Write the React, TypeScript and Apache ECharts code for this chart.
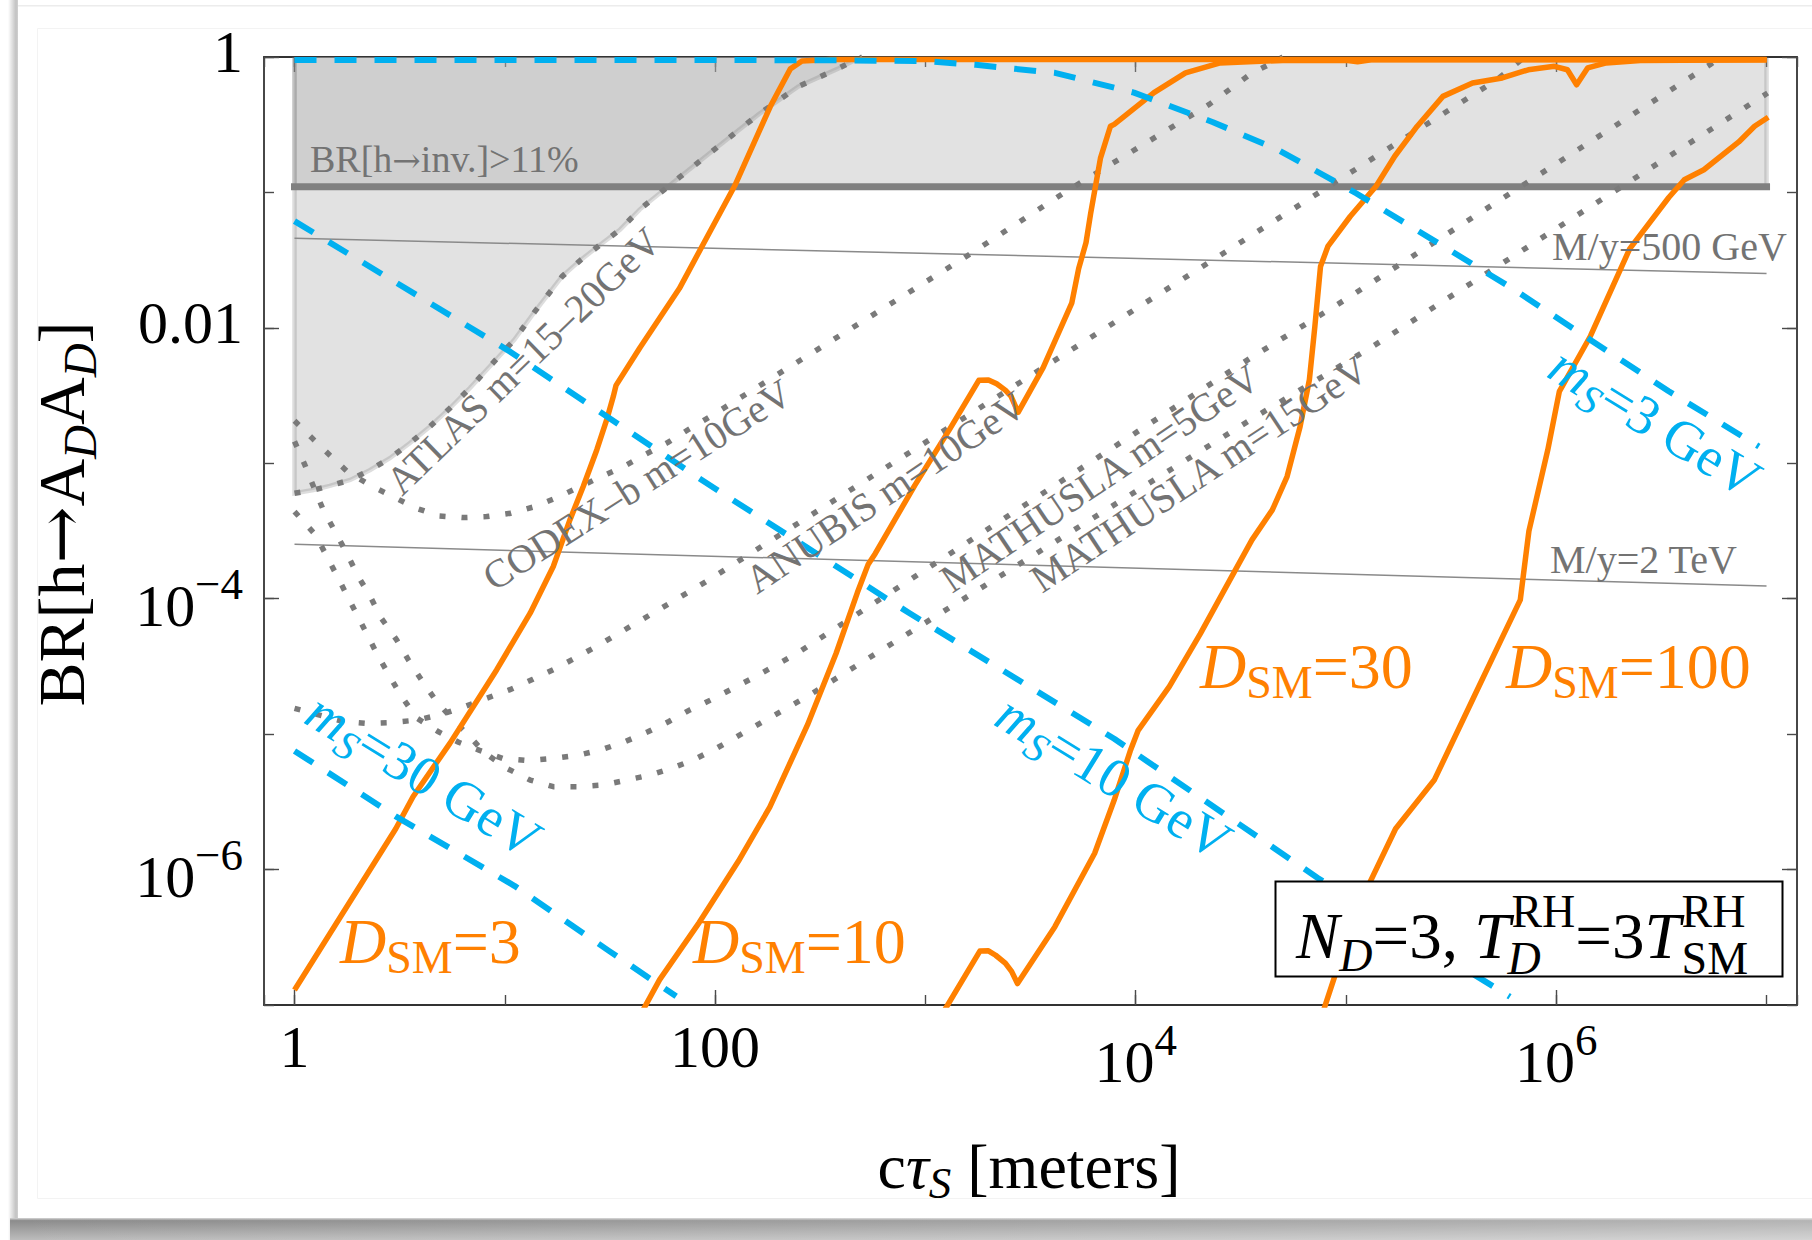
import React, { useEffect, useRef } from 'react';
import * as echarts from 'echarts';

type Pt = [number, number];

const WIDTH = 1812;
const HEIGHT = 1240;
const SERIF = '"Liberation Serif", "Times New Roman", Times, serif';
const ARROW_FONT = '"DejaVu Serif", "Liberation Serif", serif';

const ORANGE = '#ff8000';
const BLUE = '#00b0f0';
const GRAY = '#808080';
const DOT_GRAY = '#7a7a7a';
const LABEL_GRAY = '#737373';
const REGION_FILL = 'rgba(171,171,171,0.345)';
const REGION_EDGE = 'rgba(120,120,120,0.25)';

// Axis ranges: c*tau_S in meters, branching ratio
const X_MIN = 0.716;
const X_MAX = 1.396e7;
const Y_MIN = 1e-7;
const Y_MAX = 1;

// Tick labels
const xLabelExponents = [0, 2, 4, 6];
const yLabelExponents = [0, -2, -4, -6];
const plainTickText: Record<string, string> = { '0': '1', '2': '100', '-2': '0.01' };
const xLongTicks = [1, 100, 1e4, 1e6];
const yLongTicks = [1, 1e-2, 1e-4, 1e-6];

// Invisible-decay bound BR[h -> inv.] > 11%
const brInvBound = 0.11;
const brInvBand: Pt[] = [[1, brInvBound], [1, 1], [1e7, 1], [1e7, brInvBound]];

// ATLAS m = 15-20 GeV excluded region edge
const atlasEdge: Pt[] = [
  [1, 6.01e-4], [1.23, 6.35e-4], [1.47, 6.81e-4], [1.84, 7.53e-4], [2.29, 8.93e-4],
  [2.84, 1.09e-3], [3.54, 1.41e-3], [4.41, 1.87e-3], [5.48, 2.55e-3], [6.82, 3.59e-3],
  [11.1, 8.17e-3], [13.8, 0.013], [18.7, 0.0239], [22.9, 0.0316], [28.2, 0.0407],
  [35.4, 0.0533], [43.9, 0.075], [67.6, 0.129], [104, 0.22], [161, 0.377],
  [248, 0.604], [382, 0.817], [474, 0.966], [501, 1.0],
];

// Projected reaches (dotted)
const codexB: Pt[] = [
  [1, 2.06e-3], [1.22, 1.52e-3], [1.46, 1.16e-3], [1.8, 8.57e-4], [2.34, 6.76e-4],
  [2.9, 5.73e-4], [3.76, 4.68e-4], [4.88, 4.08e-4], [6.24, 3.97e-4], [8.2, 4.04e-4],
  [10.7, 4.28e-4], [13.9, 4.79e-4], [17.9, 5.62e-4], [22.8, 6.73e-4], [28.8, 7.98e-4],
  [37.2, 9.57e-4], [46.9, 1.17e-3], [59.4, 1.42e-3], [75.3, 1.79e-3], [94.6, 2.21e-3],
  [1507, 0.0324], [4508, 0.0982], [22390, 0.447], [35730, 0.762], [44670, 0.904], [50120, 1.0],
];
const anubis: Pt[] = [
  [1, 1.55e-5], [1.71, 1.24e-5], [2.21, 1.2e-5], [2.9, 1.22e-5], [3.82, 1.27e-5],
  [4.92, 1.39e-5], [6.47, 1.6e-5], [8.18, 1.84e-5], [10.5, 2.12e-5], [13.6, 2.54e-5],
  [17.5, 3.06e-5], [22.2, 3.73e-5], [28.1, 4.56e-5], [90.2, 1.33e-4], [27730, 0.0377],
  [521200, 0.679], [707900, 1.0],
];
const mathusla5: Pt[] = [
  [1, 4.4e-4], [1.26, 2.95e-4], [1.58, 1.51e-4], [2.0, 7.41e-5], [2.51, 3.72e-5],
  [3.16, 2.0e-5], [3.8, 1.32e-5], [4.79, 1.05e-5], [6.03, 8.71e-6], [7.59, 7.59e-6],
  [9.77, 6.61e-6], [12.9, 6.38e-6], [17.0, 6.61e-6], [22.4, 7.0e-6], [28.8, 7.67e-6],
  [37.2, 8.79e-6], [47.9, 1.04e-5], [60.3, 1.24e-5], [75.9, 1.51e-5], [95.5, 1.79e-5],
  [155, 2.65e-5], [245, 3.95e-5], [35810, 6.1e-3], [90780, 0.0148], [5.38e6, 0.877], [6.03e6, 1.0],
];
const mathusla15: Pt[] = [
  [1, 1.45e-3], [1.12, 9.73e-4], [1.25, 6.35e-4], [1.37, 4.53e-4], [1.56, 3.13e-4],
  [1.77, 2.17e-4], [2.01, 1.46e-4], [2.29, 1.04e-4], [2.59, 7.16e-5], [3.06, 4.97e-5],
  [3.48, 3.53e-5], [4.02, 2.51e-5], [4.74, 1.74e-5], [5.69, 1.27e-5], [6.95, 9.31e-6],
  [7.91, 7.41e-6], [10.2, 5.6e-6], [13.2, 4.58e-6], [17.0, 4.09e-6], [22.4, 4.09e-6],
  [29.4, 4.21e-6], [37.9, 4.58e-6], [49.0, 4.99e-6], [62.1, 5.6e-6], [78.7, 6.44e-6],
  [100, 7.76e-6], [276, 1.91e-5], [36480, 2.17e-3], [133700, 7.28e-3], [1.012e7, 0.542],
];

// Contours of M/y
const my500GeV: Pt[] = [[1, 0.0459], [1e7, 0.0252]];
const my2TeV: Pt[] = [[1, 2.52e-4], [1e7, 1.24e-4]];

// Dark-sector dilution contours D_SM (solid orange)
const dsm3: Pt[] = [
  [1, 1.29e-7], [3.03, 2.0e-6], [3.66, 3.45e-6], [5.48, 8.55e-6], [9.14, 2.98e-5],
  [13.2, 7.82e-5], [17.0, 1.73e-4], [20.4, 3.82e-4], [23.6, 6.73e-4], [27.4, 1.26e-3],
  [30.5, 2.09e-3], [32.8, 3.11e-3], [33.8, 3.76e-3], [43.9, 7.13e-3], [67.6, 0.0195],
  [91.6, 0.0469], [124, 0.112], [183, 0.431], [228, 0.817], [259, 0.933], [355, 0.96], [1e7, 0.96],
];
const dsm10: Pt[] = [
  [39.8, 6.3e-8], [54.5, 1.54e-7], [84, 4.06e-7], [129, 1.15e-6], [182, 2.89e-6],
  [275, 1.17e-5], [376, 3.94e-5], [475, 1.11e-4], [535, 1.8e-4], [578, 2.16e-4],
  [889, 6.84e-4], [1312, 1.81e-3], [1795, 4.1e-3], [1995, 4.12e-3], [2183, 3.86e-3],
  [2399, 3.47e-3], [2553, 3.13e-3], [2761, 2.38e-3], [3631, 5.08e-3], [4966, 0.0152],
  [5358, 0.0274], [5808, 0.0427], [6109, 0.0701], [6808, 0.18], [7586, 0.308], [7907, 0.318],
  [12220, 0.546], [17260, 0.764], [25230, 0.904], [50120, 0.944], [1.0e5, 0.944],
  [113500, 0.923], [131800, 0.955], [1e7, 0.955],
];
const dsm30: Pt[] = [
  [1148, 7.6e-8], [1816, 2.5e-7], [1995, 2.51e-7], [2158, 2.33e-7], [2399, 2.04e-7],
  [2570, 1.77e-7], [2742, 1.44e-7], [4130, 3.79e-7], [6383, 1.32e-6], [7907, 3.26e-6],
  [9419, 7.5e-6], [10260, 1.06e-5], [14450, 2.24e-5], [20280, 5.5e-5], [27730, 1.33e-4],
  [35730, 2.72e-4], [44670, 4.53e-4], [52480, 7.98e-4], [60530, 1.87e-3], [66990, 4.13e-3],
  [71120, 0.0102], [75680, 0.0284], [82030, 0.0399], [104700, 0.0664], [139000, 0.111],
  [170600, 0.185], [217800, 0.307], [289100, 0.512], [399900, 0.643], [553400, 0.7],
  [736200, 0.805], [979500, 0.853], [1.13e6, 0.805], [1.25e6, 0.624], [1.41e6, 0.83],
  [1.73e6, 0.904], [2.51e6, 0.944], [1e7, 0.955],
];
const dsm100: Pt[] = [
  [75860, 7.9e-8], [112200, 5.0e-7], [172200, 2.0e-6], [263600, 4.61e-6], [403600, 1.85e-5],
  [544500, 4.9e-5], [674500, 9.8e-5], [741300, 3.16e-4], [912000, 1.26e-3], [1.035e6, 3.4e-3],
  [1.455e6, 8.71e-3], [2.234e6, 0.0383], [3.428e6, 0.0918], [4.064e6, 0.124], [5.035e6, 0.147],
  [7.379e6, 0.236], [8.77e6, 0.308], [1.019e7, 0.359],
];

// Scalar mass contours m_S (dashed blue)
const ms3: Pt[] = [
  [1, 0.95], [100, 0.95], [400, 0.945], [991, 0.933], [1738, 0.875], [4130, 0.764],
  [9817, 0.546], [23330, 0.33], [47640, 0.206], [112200, 0.0982], [263600, 0.0439],
  [619400, 0.0195], [1.455e6, 8.15e-3], [3.428e6, 3.4e-3], [9.2e6, 1.33e-3],
];
const ms10: Pt[] = [
  [1, 0.0614], [10.6, 6.67e-3], [84, 7.74e-4], [834, 7.87e-5], [7907, 9.25e-6],
  [73110, 8.71e-7], [602600, 1.15e-7],
];
const ms30: Pt[] = [[1, 7.52e-6], [3.03, 2.47e-6], [11.1, 7.59e-7], [31.4, 2.5e-7], [65.3, 1.16e-7]];

// ---------- text helpers ----------
let measureCtx: CanvasRenderingContext2D | null = null;
function textWidth(t: string, fs: number, italic?: boolean, family = SERIF): number {
  if (!measureCtx) measureCtx = document.createElement('canvas').getContext('2d');
  if (!measureCtx) return t.length * fs * 0.5;
  measureCtx.font = `${italic ? 'italic ' : ''}${fs}px ${family}`;
  return measureCtx.measureText(t).width;
}

interface Piece { t: string; fs: number; it?: boolean; dy?: number; dx?: number; stack?: boolean; ff?: string }

// A run of text pieces sharing one baseline; (x, y) is the baseline anchor.
function textRun(x: number, y: number, deg: number, pieces: Piece[], color: string, anchor: 'left' | 'center', z = 60) {
  const placed: { p: Piece; start: number }[] = [];
  let cursor = 0;
  let lastStart = 0;
  for (const p of pieces) {
    const w = textWidth(p.t, p.fs, p.it, p.ff ?? SERIF);
    let start: number;
    if (p.stack) {
      start = lastStart + (p.dx ?? 0);
      cursor = Math.max(cursor, start + w);
    } else {
      start = cursor + (p.dx ?? 0);
      cursor = start + w;
      lastStart = start;
    }
    placed.push({ p, start });
  }
  const shift = anchor === 'center' ? -cursor / 2 : 0;
  return {
    type: 'group',
    x,
    y,
    rotation: (deg * Math.PI) / 180,
    z,
    silent: true,
    children: placed.map(({ p, start }) => ({
      type: 'text',
      x: start + shift,
      y: (p.dy ?? 0) - 0.3375 * p.fs,
      z,
      silent: true,
      style: {
        text: p.t,
        fontSize: p.fs,
        fontFamily: p.ff ?? SERIF,
        fontStyle: p.it ? 'italic' : 'normal',
        fill: color,
        align: 'left',
        verticalAlign: 'middle',
      },
    })),
  };
}

function tickText(v: number, exps: number[]): string {
  const e = Math.log10(v);
  const r = Math.round(e);
  if (Math.abs(e - r) > 1e-6 || exps.indexOf(r) < 0) return '';
  const plain = plainTickText[String(r)];
  if (plain) return `{p|${plain}}`;
  return `{b|10}{s|${r < 0 ? '\u2212' : ''}${Math.abs(r)}}`;
}

const tickRich = {
  p: { fontSize: 60, fontFamily: SERIF, color: '#000', verticalAlign: 'bottom', padding: [0, 0, 10, 0] },
  b: { fontSize: 60, fontFamily: SERIF, color: '#000', verticalAlign: 'bottom' },
  s: { fontSize: 45, fontFamily: SERIF, color: '#000', verticalAlign: 'bottom', padding: [0, 0, 30, 0] },
};

const AXIS_LINE = { color: '#333333', width: 1.8 };
const TICK_LINE = { color: '#4a4a4a', width: 1.4 };

function logAxis(dim: 'x' | 'y', position: string, opt: { line?: boolean; labels?: boolean; len: number; custom?: number[] }) {
  const isX = dim === 'x';
  const axis: any = {
    type: 'log',
    logBase: 10,
    position,
    min: isX ? X_MIN : Y_MIN,
    max: isX ? X_MAX : Y_MAX,
    splitNumber: 5,
    axisLine: { show: !!opt.line, lineStyle: AXIS_LINE },
    axisTick: { show: true, inside: true, length: opt.len, lineStyle: TICK_LINE },
    splitLine: { show: false },
    minorTick: { show: false },
    axisLabel: { show: false },
  };
  if (opt.custom) axis.axisTick.customValues = opt.custom;
  if (opt.labels) {
    axis.axisLabel = {
      show: true,
      margin: isX ? 12 : 21,
      formatter: (v: number) => tickText(v, isX ? xLabelExponents : yLabelExponents),
      rich: tickRich,
      showMinLabel: true,
      showMaxLabel: true,
    };
  }
  return axis;
}

function line(name: string, data: Pt[], color: string, width: number, type: any, z: number, cap = 'butt') {
  return {
    type: 'line',
    name,
    data,
    xAxisIndex: 0,
    yAxisIndex: 0,
    showSymbol: false,
    symbol: 'none',
    silent: true,
    clip: true,
    z,
    lineStyle: { color, width, type, cap, join: 'round' },
  };
}

function region(name: string, outline: Pt[], edges: Pt[][]) {
  return {
    type: 'custom',
    name,
    coordinateSystem: 'cartesian2d',
    xAxisIndex: 0,
    yAxisIndex: 0,
    data: [[1, 0.5]],
    silent: true,
    clip: true,
    z: 1,
    renderItem: (_p: any, api: any) => ({
      type: 'group',
      children: [
        { type: 'polygon', shape: { points: outline.map((pt) => api.coord(pt)) }, style: { fill: REGION_FILL } },
        ...edges.map((e) => ({
          type: 'polyline',
          shape: { points: e.map((pt) => api.coord(pt)) },
          style: { stroke: REGION_EDGE, lineWidth: 4.5, fill: null },
        })),
      ],
    }),
  };
}

function buildOption(): any {
  const DOT: number[] = [6, 16];
  const DASH: number[] = [22, 18];

  const gray = (x: number, y: number, deg: number, t: string, fs = 40) =>
    textRun(x, y, deg, [{ t, fs }], LABEL_GRAY, 'left');
  const dsmLabel = (x: number, y: number, n: string) =>
    textRun(x, y, 0, [
      { t: 'D', fs: 64, it: true },
      { t: 'SM', fs: 46, dy: 10.5 },
      { t: '=' + n, fs: 64 },
    ], ORANGE, 'left');
  const msLabel = (x: number, y: number, n: string) =>
    textRun(x, y, -31.6, [
      { t: 'm', fs: 55, it: true },
      { t: 'S', fs: 41, it: true, dy: 10 },
      { t: '=' + n + ' GeV', fs: 55 },
    ], BLUE, 'left');

  const shadowBottom = new echarts.graphic.LinearGradient(0, 0, 0, 1, [
    { offset: 0, color: '#d6d6d6' },
    { offset: 0.12, color: '#8c8c8c' },
    { offset: 1, color: '#bcbcbc' },
  ]);
  const shadowFade = new echarts.graphic.LinearGradient(0, 0, 1, 0, [
    { offset: 0, color: 'rgba(255,255,255,0)' },
    { offset: 1, color: 'rgba(255,255,255,0.35)' },
  ]);
  const shadowLeft = new echarts.graphic.LinearGradient(0, 0, 1, 0, [
    { offset: 0, color: 'rgba(0,0,0,0)' },
    { offset: 0.8, color: 'rgba(0,0,0,0.24)' },
    { offset: 1, color: 'rgba(0,0,0,0.18)' },
  ]);

  const graphic: any[] = [
    // sheet edge and drop shadow
    { type: 'rect', z: 0, silent: true, shape: { x: 8, y: 0, width: 10, height: HEIGHT }, style: { fill: shadowLeft } },
    { type: 'rect', z: 0, silent: true, shape: { x: 18, y: 5, width: WIDTH - 18, height: 1.5 }, style: { fill: '#ececec' } },
    { type: 'rect', z: 0, silent: true, shape: { x: 37.5, y: 28.5, width: WIDTH, height: 1170 }, style: { fill: null, stroke: '#f3f3f3', lineWidth: 1 } },
    { type: 'rect', z: 0, silent: true, shape: { x: 10, y: 1218, width: WIDTH - 10, height: 22 }, style: { fill: shadowBottom } },
    { type: 'rect', z: 0, silent: true, shape: { x: 10, y: 1218, width: WIDTH - 10, height: 22 }, style: { fill: shadowFade } },

    // region and curve annotations
    textRun(310, 172, 0, [
      { t: 'BR[h', fs: 38 },
      { t: '\u2192', fs: 34, ff: ARROW_FONT, dy: -1 },
      { t: 'inv.]>11%', fs: 38 },
    ], LABEL_GRAY, 'left'),
    gray(1552, 260, 0, 'M/y=500 GeV'),
    gray(1550, 573, 0, 'M/y=2 TeV'),
    gray(402, 497, 44, 'ATLAS m=15\u201320GeV'),
    gray(494, 592, 32.5, 'CODEX\u2013b m=10GeV'),
    gray(757, 595, 34, 'ANUBIS m=10GeV'),
    gray(952, 594, 34, 'MATHUSLA m=5GeV'),
    gray(1042, 594, 33.5, 'MATHUSLA m=15GeV'),

    msLabel(1545, 376, '3'),
    msLabel(992, 724, '10'),
    msLabel(302, 722, '30'),

    dsmLabel(340, 963, '3'),
    dsmLabel(693, 963, '10'),
    dsmLabel(1200, 688, '30'),
    dsmLabel(1506, 688, '100'),

    // axis titles
    textRun(1029, 1188, 0, [
      { t: 'c', fs: 64 },
      { t: '\u03c4', fs: 64, it: true },
      { t: 'S', fs: 45, it: true, dy: 10 },
      { t: ' [meters]', fs: 64 },
    ], '#000', 'center'),
    textRun(84, 514, 90, [
      { t: 'BR[h', fs: 66 },
      { t: '\u2192', fs: 68, ff: ARROW_FONT, dy: -1 },
      { t: 'A', fs: 66 },
      { t: 'D', fs: 47, it: true, dy: 12 },
      { t: 'A', fs: 66 },
      { t: 'D', fs: 47, it: true, dy: 12 },
      { t: ']', fs: 66 },
    ], '#000', 'center'),

    // parameter box
    {
      type: 'rect', z: 70, silent: true,
      shape: { x: 1275.5, y: 881.5, width: 507, height: 95 },
      style: { fill: '#fff', stroke: '#000', lineWidth: 2 },
    },
    textRun(1296, 958, 0, [
      { t: 'N', fs: 65, it: true },
      { t: 'D', fs: 46, it: true, dy: 13 },
      { t: '=3, ', fs: 65 },
      { t: 'T', fs: 65, it: true },
      { t: 'RH', fs: 46, dy: -31, dx: 1 },
      { t: 'D', fs: 46, it: true, dy: 16, stack: true, dx: -4 },
      { t: '=3', fs: 65 },
      { t: 'T', fs: 65, it: true },
      { t: 'RH', fs: 46, dy: -31, dx: 1 },
      { t: 'SM', fs: 46, dy: 16, stack: true, dx: 0 },
    ], '#000', 'left', 80),
  ];

  return {
    animation: false,
    backgroundColor: '#ffffff',
    grid: { left: 264, top: 57, width: 1533, height: 948, containLabel: false },
    xAxis: [
      logAxis('x', 'bottom', { line: true, labels: true, len: 10 }),
      logAxis('x', 'bottom', { len: 15, custom: xLongTicks }),
      logAxis('x', 'top', { line: true, len: 10 }),
      logAxis('x', 'top', { len: 15, custom: xLongTicks }),
    ],
    yAxis: [
      logAxis('y', 'left', { line: true, labels: true, len: 10 }),
      logAxis('y', 'left', { len: 15, custom: yLongTicks }),
      logAxis('y', 'right', { line: true, len: 10 }),
      logAxis('y', 'right', { len: 15, custom: yLongTicks }),
    ],
    series: [
      region('BR inv band', brInvBand, [[[1, brInvBound], [1, 1]], [[1e7, brInvBound], [1e7, 1]]]),
      region('ATLAS excluded', [[1, 1], ...atlasEdge], [[[1, 1], ...atlasEdge]]),
      line('BR inv bound', [[1, brInvBound], [1e7, brInvBound]], GRAY, 7, 'solid', 2, 'square'),
      line('M/y=500 GeV', my500GeV, '#8a8a8a', 1.5, 'solid', 2),
      line('M/y=2 TeV', my2TeV, '#8a8a8a', 1.5, 'solid', 2),
      line('ATLAS', atlasEdge, DOT_GRAY, 5.5, DOT, 3),
      line('CODEX-b', codexB, DOT_GRAY, 5.5, DOT, 3),
      line('ANUBIS', anubis, DOT_GRAY, 5.5, DOT, 3),
      line('MATHUSLA m=5GeV', mathusla5, DOT_GRAY, 5.5, DOT, 3),
      line('MATHUSLA m=15GeV', mathusla15, DOT_GRAY, 5.5, DOT, 3),
      line('D_SM=3', dsm3, ORANGE, 5.5, 'solid', 4),
      line('D_SM=10', dsm10, ORANGE, 5.5, 'solid', 4),
      line('D_SM=30', dsm30, ORANGE, 5.5, 'solid', 4),
      line('D_SM=100', dsm100, ORANGE, 5.5, 'solid', 4),
      line('m_S=3 GeV', ms3, BLUE, 6, DASH, 5),
      line('m_S=10 GeV', ms10, BLUE, 6, DASH, 5),
      line('m_S=30 GeV', ms30, BLUE, 6, DASH, 5),
    ],
    graphic,
  };
}

export default function App() {
  const ref = useRef<HTMLDivElement>(null);
  useEffect(() => {
    if (!ref.current) return;
    const chart = echarts.init(ref.current, undefined, { renderer: 'svg' });
    chart.setOption(buildOption());
    return () => chart.dispose();
  }, []);
  return (
    <div
      ref={ref}
      style={{ position: 'absolute', left: 0, top: 0, width: WIDTH, height: HEIGHT, background: '#fff' }}
    />
  );
}
